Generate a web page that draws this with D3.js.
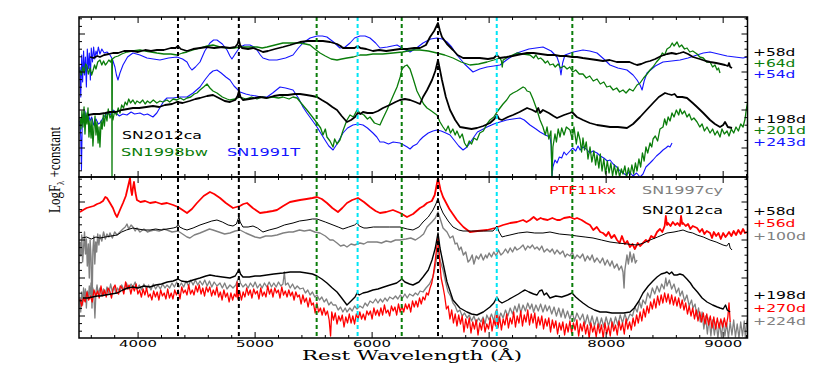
<!DOCTYPE html>
<html><head><meta charset="utf-8">
<script src="https://cdn.jsdelivr.net/npm/d3@7"></script>
<style>body{margin:0;background:#fff;} svg{display:block}</style>
</head><body>
<svg id="c" width="830" height="376"></svg>
<script>
// ---------------- data ----------------
const xTicks = [4000,5000,6000,7000,8000,9000];
const xDomain = [3495, 9208];
const lineBlack = [4341, 4861, 6563];
const lineGreen = [5526, 6253, 7711];
const lineCyan = [5876, 7065];
const yMajorTop = [2.9, 6.7, 10.5, 14.3];
const yMajorBot = [2.2, 6.0, 9.8, 13.6];

// top panel: SN2012ca +58d
const top12ca58 = [[3589,12.0],[3620,11.9],[3650,12.1],[3674,12.0],[3710,12.2],[3750,12.3],[3785,12.4],[3830,12.4],[3880,12.6],[3956,12.6],[4000,12.5],[4060,12.7],[4110,12.6],[4161,12.7],[4220,12.7],[4280,12.9],[4320,12.9],[4341,13.1],[4365,12.8],[4418,12.6],[4470,12.8],[4530,12.9],[4589,13.0],[4650,12.9],[4720,13.0],[4785,12.9],[4830,13.0],[4850,13.3],[4861,13.7],[4872,13.2],[4888,12.9],[4940,12.8],[4982,12.9],[5030,12.7],[5067,12.5],[5110,12.6],[5170,12.8],[5238,13.0],[5300,13.2],[5384,13.5],[5450,13.6],[5520,13.6],[5580,13.6],[5640,13.5],[5700,13.3],[5730,13.1],[5751,12.9],[5800,12.9],[5850,12.9],[5877,13.1],[5900,12.9],[5950,12.8],[6007,12.6],[6060,12.7],[6120,12.6],[6180,12.7],[6238,12.8],[6300,12.8],[6360,12.9],[6409,12.9],[6460,13.2],[6495,14.0],[6530,14.6],[6563,15.4],[6580,14.6],[6597,14.0],[6640,13.3],[6691,12.7],[6730,12.2],[6777,11.9],[6850,11.9],[6920,11.9],[6990,11.8],[7040,11.9],[7067,12.2],[7090,11.9],[7150,12.0],[7200,12.1],[7238,12.2],[7280,12.3],[7324,12.4],[7380,12.4],[7440,12.3],[7500,12.2],[7560,12.2],[7606,12.1],[7660,12.1],[7710,12.0],[7751,12.0],[7800,11.9],[7860,11.8],[7920,11.7],[7973,11.6],[8030,11.7],[8090,11.5],[8144,11.5],[8200,11.5],[8240,11.3],[8264,11.2],[8300,11.3],[8340,11.5],[8375,11.6],[8420,11.8],[8470,12.1],[8520,12.3],[8560,12.4],[8600,12.3],[8632,12.4],[8660,12.5],[8700,12.3],[8742,12.0],[8800,11.8],[8850,11.6],[8888,11.5],[8940,11.4],[8980,11.3],[9016,11.2],[9040,11.1],[9050,11.4],[9060,11.0],[9076,10.9]];
// top panel: SN1998bw +64d
const top98bw64 = [[3503,10.7],[3515,10.2],[3528,11.0],[3540,10.4],[3552,11.3],[3563,11.1],[3575,10.3],[3590,10.9],[3603,10.2],[3614,10.6],[3628,11.2],[3640,10.8],[3655,11.5],[3674,11.7],[3690,11.2],[3705,11.6],[3720,11.2],[3734,11.4],[3750,11.7],[3765,11.5],[3775,11.8],[3777,-0.5],[3780,11.8],[3802,12.0],[3830,12.1],[3860,12.3],[3905,12.5],[3950,12.6],[4016,12.7],[4060,12.6],[4110,12.5],[4161,12.4],[4220,12.3],[4280,12.3],[4332,12.2],[4380,12.4],[4418,12.5],[4470,12.7],[4529,12.9],[4590,13.1],[4640,13.2],[4700,13.0],[4760,12.9],[4820,12.9],[4871,13.0],[4940,13.0],[5016,13.0],[5060,12.9],[5102,13.0],[5170,13.2],[5238,13.4],[5310,13.4],[5384,13.4],[5430,13.3],[5469,13.2],[5510,12.8],[5555,12.4],[5600,12.1],[5650,11.8],[5700,11.7],[5740,11.8],[5785,11.9],[5840,12.0],[5896,12.2],[5950,12.2],[6007,12.3],[6090,12.3],[6178,12.4],[6260,12.5],[6349,12.7],[6409,12.7],[6480,12.6],[6554,12.4],[6620,12.2],[6691,11.9],[6760,11.5],[6836,11.2],[6910,11.3],[6982,11.5],[7040,11.7],[7093,11.9],[7105,11.6],[7112,11.0],[7120,11.7],[7180,12.1],[7238,12.4],[7290,12.3],[7349,12.2],[7380,11.9],[7400,12.2],[7420,11.8],[7440,11.9],[7460,11.7],[7480,11.4],[7500,11.6],[7520,11.2],[7546,11.3],[7565,11.0],[7590,11.3],[7610,10.9],[7640,11.1],[7666,10.8],[7690,11.0],[7715,10.5],[7740,10.7],[7770,10.3],[7802,10.3],[7830,9.9],[7860,10.1],[7890,9.6],[7922,9.8],[7950,9.3],[7980,9.5],[8005,9.0],[8033,9.1],[8060,8.7],[8090,8.9],[8115,8.5],[8144,8.7],[8170,8.4],[8200,8.8],[8230,8.6],[8264,9.2],[8290,9.4],[8320,9.9],[8350,10.3],[8375,10.7],[8400,11.0],[8430,11.5],[8460,11.9],[8480,12.4],[8500,12.2],[8520,12.8],[8546,13.0],[8565,13.4],[8580,13.1],[8606,13.5],[8625,13.0],[8645,13.2],[8670,12.8],[8691,12.9],[8715,12.5],[8740,12.6],[8777,12.3],[8800,12.0],[8830,11.9],[8860,11.5],[8888,11.5],[8910,11.0],[8930,11.2],[8948,10.7],[8960,10.9],[8973,10.4]];
// top panel: SN1991T +54d
const top91T54 = [[3503,11.0],[3510,8.0],[3518,12.2],[3526,9.5],[3534,12.6],[3542,10.2],[3550,12.0],[3558,9.0],[3566,12.8],[3575,10.8],[3583,12.4],[3592,9.7],[3600,12.9],[3610,11.5],[3620,13.0],[3630,11.8],[3640,12.6],[3650,12.2],[3660,13.0],[3674,12.3],[3690,12.8],[3710,12.4],[3734,12.5],[3760,12.2],[3780,11.8],[3802,11.0],[3815,10.2],[3828,9.7],[3845,10.4],[3871,11.2],[3910,12.0],[3956,12.4],[4016,12.2],[4076,11.9],[4130,11.8],[4187,11.7],[4260,11.9],[4332,12.0],[4380,11.8],[4418,11.5],[4440,11.0],[4460,10.7],[4490,11.0],[4529,11.5],[4570,12.6],[4614,13.4],[4645,13.7],[4674,13.7],[4720,13.3],[4760,12.7],[4785,12.1],[4802,11.8],[4835,12.4],[4871,13.0],[4910,13.2],[4956,13.2],[4990,13.0],[5016,12.7],[5045,12.2],[5067,11.9],[5120,11.7],[5187,11.7],[5260,11.9],[5324,12.2],[5370,12.9],[5409,13.4],[5470,13.9],[5529,14.1],[5575,14.1],[5614,14.0],[5670,13.5],[5725,12.9],[5770,13.0],[5811,13.4],[5850,13.9],[5896,14.1],[5940,14.1],[5982,13.9],[6030,13.4],[6067,12.9],[6130,13.0],[6213,13.2],[6270,12.8],[6324,12.5],[6380,12.9],[6435,13.4],[6500,13.8],[6554,13.9],[6600,13.8],[6640,13.5],[6680,13.0],[6725,12.2],[6790,11.3],[6862,10.5],[6920,10.8],[6982,11.0],[7040,11.1],[7093,11.2],[7160,11.8],[7238,12.4],[7340,12.8],[7460,13.0],[7530,12.6],[7580,12.0],[7600,11.3],[7614,10.2],[7628,11.4],[7648,12.2],[7720,12.5],[7802,12.7],[7860,12.6],[7922,12.4],[7980,11.8],[8033,11.2],[8100,10.9],[8178,10.7],[8230,10.2],[8264,9.7],[8290,9.2],[8307,8.7],[8325,9.6],[8349,10.4],[8420,11.1],[8486,11.5],[8560,11.6],[8632,11.7],[8700,11.9],[8777,12.2],[8830,12.4],[8888,12.5],[8960,12.3],[9033,12.1],[9100,12.0],[9170,11.9],[9208,12.0]];
// top panel: SN2012ca +198d
const top12ca198 = [[3572,6.2],[3620,6.3],[3670,6.3],[3720,6.4],[3760,6.5],[3810,6.5],[3860,6.7],[3910,6.8],[3956,6.9],[4010,6.9],[4070,7.0],[4127,7.1],[4180,7.0],[4230,7.2],[4290,7.3],[4332,7.5],[4380,7.4],[4440,7.6],[4490,7.8],[4529,7.9],[4590,8.1],[4640,8.2],[4690,7.9],[4740,7.6],[4785,7.5],[4830,7.7],[4850,8.1],[4862,8.6],[4875,8.0],[4896,7.7],[4950,7.8],[5000,7.9],[5042,8.0],[5100,7.9],[5160,8.1],[5213,8.2],[5280,8.2],[5340,8.3],[5384,8.3],[5440,8.2],[5490,8.1],[5529,8.0],[5570,7.7],[5614,7.4],[5660,7.0],[5700,6.7],[5740,6.1],[5785,5.5],[5820,5.7],[5854,6.0],[5877,6.4],[5900,6.3],[5922,6.5],[5960,6.4],[6007,6.4],[6050,6.6],[6093,6.9],[6150,7.2],[6200,7.5],[6238,7.7],[6280,7.8],[6324,7.7],[6370,7.5],[6409,7.3],[6435,8.0],[6470,8.7],[6512,9.7],[6540,10.6],[6563,11.7],[6580,10.7],[6597,9.7],[6630,8.0],[6666,6.7],[6710,5.7],[6751,5.0],[6800,4.9],[6850,4.8],[6896,4.9],[6950,5.1],[7007,5.4],[7045,5.8],[7067,6.2],[7085,5.8],[7110,5.7],[7160,6.0],[7204,6.2],[7260,6.5],[7324,6.9],[7370,6.7],[7400,6.5],[7420,6.9],[7435,6.4],[7460,6.7],[7510,6.4],[7550,6.1],[7580,5.9],[7640,6.2],[7690,6.4],[7708,6.5],[7750,6.0],[7802,5.7],[7860,5.4],[7922,5.2],[7980,5.1],[8033,5.0],[8100,5.0],[8178,4.9],[8230,5.3],[8290,6.0],[8345,6.7],[8401,7.4],[8450,8.0],[8503,8.4],[8530,8.3],[8560,8.2],[8585,8.3],[8606,8.0],[8650,8.0],[8691,7.9],[8740,7.4],[8777,7.0],[8830,6.4],[8888,5.7],[8930,5.3],[8973,5.0],[9000,5.2],[9016,5.5],[9040,5.0],[9076,4.9]];
// top panel: SN1998bw +201d
const top98bw201 = [[3503,6.0],[3512,4.8],[3520,6.6],[3529,5.0],[3538,7.0],[3546,4.3],[3555,6.4],[3563,5.3],[3572,6.9],[3580,4.0],[3589,5.6],[3598,3.9],[3606,5.8],[3614,3.1],[3623,4.9],[3632,6.1],[3640,4.2],[3649,5.5],[3658,3.4],[3666,5.0],[3674,3.0],[3684,5.6],[3693,4.8],[3703,6.2],[3712,5.1],[3722,6.4],[3734,5.6],[3745,6.8],[3760,5.9],[3775,6.3],[3785,5.7],[3800,6.6],[3815,6.2],[3830,6.9],[3845,6.4],[3860,7.2],[3875,6.9],[3890,7.5],[3905,7.2],[3920,7.8],[3935,7.4],[3956,7.7],[3975,7.3],[3990,7.6],[4016,7.4],[4040,7.7],[4060,7.3],[4080,7.6],[4102,7.4],[4130,7.7],[4160,7.4],[4187,7.6],[4210,7.5],[4247,7.7],[4270,7.5],[4300,7.8],[4332,7.7],[4360,7.9],[4390,7.7],[4418,7.9],[4450,8.0],[4480,8.3],[4503,8.4],[4529,8.7],[4560,9.0],[4589,9.3],[4614,8.9],[4640,8.6],[4674,8.4],[4720,8.0],[4760,7.8],[4785,7.7],[4830,7.8],[4871,8.0],[4920,7.8],[4970,8.0],[5016,7.8],[5060,8.0],[5102,7.9],[5150,8.0],[5200,7.9],[5238,8.0],[5290,7.8],[5324,8.0],[5358,7.9],[5400,7.3],[5443,6.7],[5490,6.0],[5529,5.4],[5560,4.9],[5580,4.2],[5600,4.8],[5614,4.0],[5640,3.6],[5666,3.0],[5680,3.8],[5700,3.3],[5725,3.7],[5750,4.6],[5785,5.7],[5811,6.2],[5840,6.0],[5871,6.7],[5896,6.4],[5930,6.2],[5960,5.8],[5982,6.0],[6020,5.4],[6067,5.2],[6090,5.8],[6127,6.7],[6160,7.6],[6190,8.4],[6213,9.0],[6240,10.0],[6255,10.8],[6280,11.1],[6298,11.2],[6324,10.8],[6349,9.9],[6383,8.6],[6409,8.0],[6440,7.3],[6469,6.9],[6495,6.7],[6530,6.4],[6554,6.2],[6580,5.5],[6606,5.0],[6630,4.6],[6650,5.1],[6670,4.4],[6690,4.8],[6710,4.2],[6725,4.6],[6750,3.9],[6770,4.3],[6790,3.4],[6811,3.0],[6830,3.6],[6850,3.3],[6870,3.9],[6896,3.7],[6920,4.4],[6950,4.6],[6982,5.3],[7007,5.7],[7040,6.0],[7067,6.5],[7093,6.9],[7119,7.3],[7150,7.7],[7178,8.2],[7204,8.4],[7238,8.6],[7264,8.8],[7290,9.0],[7307,8.9],[7324,8.6],[7349,8.5],[7375,7.8],[7409,6.7],[7435,5.7],[7460,5.0],[7480,4.2],[7495,5.0],[7510,3.8],[7528,4.6],[7537,0.0],[7545,3.0],[7563,4.3],[7575,3.5],[7590,4.8],[7606,4.0],[7620,4.9],[7640,4.2],[7660,5.0],[7691,4.7],[7710,3.8],[7725,5.0],[7745,3.3],[7760,4.5],[7777,3.7],[7790,2.5],[7802,3.9],[7815,2.7],[7830,3.5],[7845,1.8],[7862,3.0],[7878,1.5],[7895,2.6],[7910,1.2],[7922,2.2],[7938,0.9],[7950,2.3],[7965,0.6],[7980,1.8],[7995,0.3],[8010,1.6],[8025,0.4],[8040,1.4],[8055,0.1],[8070,1.2],[8085,0.2],[8100,1.0],[8115,0.0],[8130,0.8],[8144,0.3],[8160,1.1],[8175,0.0],[8190,0.9],[8205,0.2],[8220,1.2],[8235,0.3],[8250,1.4],[8264,0.6],[8280,1.8],[8295,1.0],[8310,2.4],[8325,1.6],[8340,3.0],[8355,2.4],[8375,3.4],[8390,3.0],[8401,3.8],[8420,4.1],[8440,3.6],[8460,4.8],[8486,5.0],[8500,5.8],[8515,5.2],[8530,6.0],[8546,5.6],[8563,6.4],[8580,6.0],[8600,6.7],[8620,6.2],[8632,6.8],[8650,6.3],[8670,6.6],[8691,6.0],[8710,6.3],[8730,5.7],[8750,5.9],[8777,5.5],[8800,5.0],[8820,5.3],[8840,4.6],[8862,5.0],[8888,4.4],[8910,4.8],[8930,4.2],[8950,4.6],[8973,4.0],[8990,4.8],[9010,4.3],[9033,4.6],[9050,4.1],[9070,4.8],[9090,4.4],[9110,5.0],[9130,4.6],[9150,5.3],[9170,5.0],[9187,5.8],[9198,6.8],[9208,7.4]];
// top panel: SN1991T +243d
const top91T243 = [[3503,5.6],[3510,4.0],[3516,0.7],[3522,5.0],[3530,6.3],[3538,5.4],[3546,6.6],[3555,5.5],[3563,5.9],[3575,6.4],[3589,5.6],[3603,6.0],[3620,5.2],[3640,5.8],[3660,5.3],[3674,5.4],[3700,5.9],[3720,6.2],[3740,6.4],[3760,6.2],[3785,6.7],[3810,6.4],[3840,6.1],[3870,6.3],[3905,6.2],[3940,6.5],[3970,6.3],[4016,6.4],[4050,6.2],[4080,6.3],[4127,6.0],[4160,6.4],[4190,7.0],[4220,7.6],[4247,7.9],[4300,7.9],[4350,8.0],[4418,8.0],[4470,8.4],[4529,9.0],[4570,9.7],[4610,10.3],[4640,10.6],[4674,10.7],[4710,10.4],[4750,10.0],[4785,9.7],[4820,9.1],[4871,8.5],[4920,8.3],[4956,8.2],[5010,8.1],[5050,8.0],[5102,8.0],[5150,8.4],[5213,9.0],[5260,8.9],[5324,8.7],[5370,7.9],[5409,7.0],[5443,6.4],[5480,5.8],[5529,5.0],[5560,4.4],[5597,3.7],[5630,3.1],[5666,2.7],[5700,3.3],[5751,4.4],[5790,4.9],[5836,5.2],[5880,5.3],[5922,5.2],[5960,4.9],[6007,4.4],[6040,4.0],[6067,3.5],[6100,3.5],[6140,3.3],[6180,3.5],[6238,3.4],[6270,3.2],[6300,3.0],[6324,2.8],[6350,3.1],[6383,3.3],[6409,3.7],[6435,4.0],[6480,4.4],[6520,4.6],[6554,4.7],[6590,4.6],[6630,4.4],[6666,4.2],[6700,3.7],[6740,3.1],[6777,2.7],[6811,3.0],[6836,3.4],[6870,4.0],[6900,4.5],[6950,4.8],[6982,5.0],[7040,5.3],[7093,5.5],[7150,5.7],[7204,5.8],[7264,5.9],[7300,5.7],[7349,5.2],[7400,4.8],[7435,4.5],[7480,4.2],[7520,4.0],[7530,3.2],[7537,0.0],[7545,1.0],[7563,1.7],[7580,1.4],[7600,2.0],[7620,1.9],[7640,2.5],[7660,2.2],[7691,2.6],[7715,2.9],[7740,2.6],[7760,3.1],[7777,2.7],[7802,3.0],[7830,2.8],[7860,2.4],[7888,2.6],[7922,2.4],[7950,2.1],[7980,1.9],[8010,1.6],[8033,1.7],[8060,1.3],[8090,1.0],[8120,0.6],[8144,0.4],[8170,0.2],[8200,0.5],[8230,0.1],[8260,0.4],[8290,0.0],[8315,0.3],[8340,1.0],[8375,1.4],[8400,1.7],[8430,2.1],[8460,2.4],[8486,2.7],[8510,2.9],[8530,3.1],[8546,3.0],[8563,3.4]];

// bottom panel: PTF11kx +56d
const botPtf56 = [[3503,12.6],[3530,12.8],[3560,13.0],[3589,13.1],[3620,13.2],[3650,13.4],[3674,13.5],[3700,13.7],[3720,14.1],[3734,14.0],[3760,13.5],[3785,13.0],[3805,12.4],[3820,12.1],[3845,12.8],[3871,13.5],[3895,14.2],[3913,15.1],[3931,16.0],[3940,14.8],[3948,14.3],[3956,15.0],[3965,15.6],[3978,14.5],[3990,13.8],[4020,13.6],[4060,13.7],[4102,13.5],[4150,13.6],[4200,13.4],[4247,13.5],[4300,13.3],[4341,13.1],[4380,12.8],[4418,12.5],[4460,12.9],[4503,13.5],[4560,14.2],[4614,14.6],[4650,14.4],[4700,14.0],[4750,13.5],[4811,13.0],[4870,13.2],[4900,13.4],[4931,13.5],[4980,13.0],[5042,12.5],[5100,12.6],[5150,12.7],[5187,12.8],[5240,13.2],[5298,13.6],[5340,13.7],[5384,13.8],[5440,13.9],[5490,14.0],[5529,14.1],[5570,13.9],[5614,13.5],[5660,13.0],[5708,12.6],[5745,13.0],[5785,13.5],[5830,13.8],[5879,14.0],[5930,13.6],[5982,13.1],[6030,12.7],[6067,12.5],[6120,12.6],[6178,12.8],[6240,12.5],[6298,12.1],[6350,12.4],[6409,13.0],[6440,13.2],[6469,13.5],[6510,13.7],[6535,14.3],[6563,16.0],[6585,14.8],[6606,14.1],[6660,12.9],[6725,11.8],[6780,11.1],[6836,10.6],[6900,10.7],[6982,10.8],[7050,11.0],[7119,11.3],[7180,11.5],[7238,11.6],[7290,11.8],[7320,11.6],[7349,11.8],[7380,12.1],[7410,11.8],[7440,12.0],[7460,11.9],[7500,11.8],[7540,12.0],[7580,11.8],[7606,11.8],[7640,12.0],[7690,12.1],[7730,11.9],[7751,12.0],[7790,11.8],[7830,11.5],[7862,11.3],[7890,10.8],[7920,11.1],[7950,10.6],[7973,10.5],[8000,10.2],[8020,10.6],[8045,10.0],[8070,10.3],[8093,9.8],[8115,9.5],[8135,10.2],[8160,9.4],[8180,9.7],[8204,9.1],[8225,9.4],[8245,8.9],[8270,9.5],[8290,9.2],[8315,9.5],[8340,9.8],[8360,9.6],[8385,10.2],[8410,10.0],[8435,10.6],[8460,10.9],[8480,10.6],[8500,11.2],[8510,12.2],[8520,11.3],[8529,11.5],[8550,11.2],[8570,11.6],[8590,11.3],[8610,11.5],[8630,11.2],[8640,12.2],[8650,11.4],[8657,11.5],[8680,11.2],[8700,11.4],[8720,10.9],[8740,11.2],[8777,11.0],[8800,10.6],[8820,10.9],[8840,10.4],[8860,10.7],[8888,10.5],[8905,10.0],[8920,10.6],[8940,10.2],[8960,10.5],[8980,9.9],[9000,10.5],[9020,10.1],[9033,10.3],[9050,10.6],[9070,10.2],[9090,10.7],[9110,10.3],[9130,10.8],[9150,10.4],[9170,10.9],[9187,10.5],[9208,10.6]];
// bottom panel: SN2012ca +58d
const bot12ca58 = [[3520,10.0],[3560,10.1],[3600,9.9],[3640,10.1],[3674,10.0],[3720,10.1],[3770,10.2],[3820,10.3],[3860,10.6],[3900,10.8],[3956,11.0],[4000,10.9],[4050,10.8],[4102,10.8],[4150,10.9],[4200,10.8],[4247,10.9],[4300,11.0],[4330,11.1],[4341,11.4],[4355,11.1],[4390,10.9],[4418,10.8],[4470,11.0],[4529,11.3],[4580,11.5],[4630,11.7],[4674,11.8],[4720,11.6],[4770,11.3],[4811,11.2],[4840,11.4],[4855,11.9],[4862,12.1],[4872,11.6],[4896,11.1],[4940,11.1],[4982,11.2],[5020,11.0],[5067,10.6],[5120,10.8],[5187,11.0],[5250,11.3],[5324,11.5],[5380,11.7],[5443,11.8],[5490,11.9],[5529,11.9],[5600,11.6],[5666,11.3],[5710,11.1],[5751,10.9],[5800,11.1],[5850,11.3],[5871,11.5],[5890,11.2],[5930,11.0],[5956,11.0],[6010,11.1],[6067,11.1],[6150,11.1],[6238,11.1],[6300,10.9],[6349,10.8],[6400,11.1],[6435,11.6],[6480,12.1],[6520,12.8],[6545,13.4],[6563,14.0],[6580,13.2],[6606,12.5],[6650,11.7],[6691,11.1],[6740,10.8],[6777,10.7],[6850,10.7],[6950,10.7],[7033,10.7],[7055,11.0],[7067,11.2],[7085,10.6],[7110,10.1],[7140,10.2],[7178,10.3],[7250,10.5],[7324,10.6],[7390,10.5],[7460,10.5],[7520,10.6],[7600,10.4],[7691,10.3],[7750,10.2],[7820,10.1],[7888,10.0],[7960,9.8],[8033,9.6],[8100,9.5],[8180,9.4],[8264,9.3],[8320,9.5],[8375,9.8],[8440,10.1],[8520,10.5],[8580,10.6],[8620,10.7],[8657,10.8],[8700,10.6],[8740,10.5],[8777,10.3],[8830,10.1],[8888,9.8],[8940,9.6],[8999,9.3],[9030,9.2],[9050,9.5],[9060,9.0],[9076,8.8]];
// bottom panel: SN1997cy +100d
const bot97cy100 = [[3503,9.6],[3510,8.2],[3518,10.3],[3526,7.6],[3534,9.0],[3542,10.6],[3550,8.4],[3558,9.9],[3566,7.2],[3575,9.4],[3583,6.0],[3590,9.8],[3598,8.0],[3606,3.0],[3614,8.8],[3622,10.2],[3630,7.4],[3638,9.6],[3646,8.6],[3655,10.4],[3665,9.3],[3674,10.3],[3690,9.7],[3705,10.6],[3720,9.9],[3734,10.4],[3750,10.1],[3760,10.5],[3780,10.0],[3800,10.6],[3820,10.3],[3845,10.6],[3870,10.9],[3890,11.1],[3905,11.4],[3920,10.9],[3940,11.3],[3956,11.1],[3975,10.7],[3990,11.0],[4016,10.6],[4050,10.9],[4080,10.6],[4102,10.7],[4140,10.8],[4180,10.7],[4220,10.9],[4247,10.8],[4290,10.6],[4341,10.7],[4380,10.4],[4418,10.1],[4443,10.0],[4480,10.3],[4529,10.5],[4570,10.7],[4610,10.9],[4640,10.8],[4690,10.6],[4740,10.4],[4785,10.5],[4830,10.7],[4871,10.8],[4920,10.5],[4960,10.3],[5000,10.1],[5042,10.0],[5090,10.2],[5140,10.2],[5187,10.3],[5240,10.5],[5290,10.6],[5324,10.6],[5380,10.8],[5420,10.7],[5469,10.8],[5510,10.6],[5555,10.5],[5600,10.2],[5640,9.8],[5666,9.8],[5700,9.5],[5730,9.2],[5760,9.3],[5785,9.1],[5820,9.4],[5850,9.3],[5896,9.5],[5930,9.4],[5960,9.6],[6007,9.6],[6042,9.6],[6080,9.5],[6120,9.7],[6160,9.6],[6200,9.8],[6238,9.8],[6290,9.9],[6330,10.0],[6370,9.8],[6409,10.1],[6440,10.4],[6469,11.1],[6510,11.6],[6540,12.0],[6563,12.6],[6585,11.8],[6606,11.0],[6640,10.6],[6666,10.0],[6690,10.2],[6710,9.4],[6725,9.5],[6745,8.8],[6760,9.1],[6780,8.3],[6800,8.6],[6820,7.6],[6836,7.8],[6855,8.3],[6870,7.4],[6890,8.2],[6910,7.9],[6930,8.4],[6950,7.8],[6970,8.3],[6982,8.0],[7000,8.5],[7020,8.1],[7040,8.6],[7060,8.2],[7080,8.8],[7100,8.3],[7119,8.5],[7140,8.9],[7160,8.5],[7180,9.0],[7200,8.6],[7220,9.1],[7238,8.8],[7264,9.0],[7290,9.3],[7310,8.8],[7330,9.2],[7349,9.0],[7370,9.3],[7390,8.9],[7409,9.1],[7430,8.8],[7450,9.2],[7470,8.6],[7495,8.9],[7520,8.6],[7540,8.9],[7560,8.4],[7580,8.8],[7606,8.4],[7630,8.7],[7650,8.1],[7666,8.4],[7691,8.2],[7710,8.6],[7730,7.9],[7751,8.3],[7777,8.0],[7800,8.4],[7820,7.7],[7840,8.2],[7862,7.8],[7880,8.3],[7900,7.6],[7922,8.0],[7948,7.5],[7970,8.0],[7990,7.3],[8010,7.8],[8033,7.2],[8050,7.7],[8070,7.0],[8093,7.4],[8110,6.8],[8130,7.2],[8144,6.6],[8153,5.0],[8160,6.8],[8178,8.3],[8190,7.4],[8204,8.6],[8220,7.6],[8235,8.4],[8250,7.5],[8264,7.8]];
// bottom panel: SN2012ca +198d
const bot12ca198 = [[3529,4.0],[3570,4.0],[3610,4.1],[3650,4.2],[3674,4.2],[3720,4.3],[3770,4.4],[3820,4.5],[3870,4.8],[3910,5.0],[3956,5.1],[4000,5.0],[4050,5.2],[4102,5.1],[4150,5.3],[4200,5.4],[4250,5.6],[4300,5.7],[4341,5.9],[4370,5.7],[4418,5.6],[4470,5.8],[4529,6.0],[4580,6.2],[4614,6.3],[4660,6.2],[4720,6.1],[4785,6.0],[4830,6.2],[4850,6.6],[4862,6.9],[4875,6.4],[4896,6.1],[4950,6.1],[5000,6.2],[5042,6.2],[5100,6.3],[5160,6.4],[5238,6.5],[5300,6.6],[5384,6.6],[5440,6.5],[5490,6.4],[5529,6.2],[5570,5.9],[5614,5.5],[5660,5.0],[5700,4.6],[5740,4.0],[5785,3.3],[5820,3.7],[5854,4.1],[5871,4.5],[5890,4.3],[5922,4.5],[5960,4.6],[6007,4.8],[6050,4.9],[6100,5.1],[6153,5.3],[6210,5.5],[6255,5.9],[6280,5.6],[6320,5.4],[6349,5.3],[6400,5.6],[6435,6.1],[6480,6.8],[6512,7.8],[6540,9.0],[6563,10.5],[6580,9.0],[6606,7.5],[6640,5.6],[6691,3.8],[6750,3.0],[6811,2.6],[6850,2.4],[6896,2.3],[6950,2.6],[7007,3.1],[7040,3.5],[7067,4.1],[7085,3.7],[7110,3.5],[7160,3.8],[7204,4.1],[7250,4.4],[7290,4.7],[7307,4.8],[7340,4.6],[7380,4.4],[7409,4.3],[7430,4.7],[7452,4.8],[7470,4.3],[7490,4.5],[7520,4.0],[7570,4.2],[7620,4.1],[7670,4.3],[7708,4.5],[7740,4.1],[7770,3.8],[7802,3.5],[7850,3.1],[7900,2.8],[7948,2.6],[8000,2.6],[8050,2.5],[8093,2.5],[8150,2.5],[8204,2.6],[8240,3.0],[8280,3.7],[8315,4.5],[8360,5.2],[8400,5.7],[8435,6.1],[8470,6.4],[8500,6.5],[8520,6.6],[8540,6.4],[8560,6.6],[8580,6.3],[8606,6.3],[8630,6.4],[8657,6.3],[8690,5.9],[8720,5.5],[8742,5.1],[8780,4.6],[8820,4.0],[8862,3.6],[8910,3.3],[8950,3.1],[8973,3.0],[9000,2.9],[9020,3.3],[9035,2.8],[9059,2.6]];
// bottom panel: PTF11kx +270d
const botPtf270 = [[3503,3.9],[3518,3.2],[3533,4.0],[3548,3.6],[3563,4.6],[3578,3.8],[3593,4.2],[3608,3.6],[3623,4.8],[3638,4.2],[3653,4.7],[3668,4.0],[3683,5.2],[3698,4.2],[3713,4.8],[3728,4.1],[3743,5.0],[3758,4.7],[3773,4.0],[3788,5.0],[3803,5.3],[3818,4.6],[3833,4.4],[3848,5.2],[3863,5.0],[3878,4.4],[3893,5.6],[3908,4.9],[3923,5.3],[3938,4.4],[3953,5.2],[3968,4.7],[3983,5.4],[3998,4.4],[4013,4.8],[4028,4.1],[4043,4.9],[4058,4.3],[4073,5.0],[4088,4.1],[4103,4.4],[4118,3.8],[4133,4.7],[4148,4.1],[4163,4.6],[4178,3.8],[4193,4.8],[4208,4.2],[4223,4.5],[4238,3.9],[4253,4.9],[4268,4.0],[4283,4.5],[4298,3.9],[4313,4.8],[4328,4.3],[4343,4.8],[4358,3.9],[4373,5.1],[4388,4.5],[4403,4.8],[4418,4.3],[4433,5.3],[4448,4.4],[4463,4.8],[4478,4.3],[4493,5.2],[4508,4.6],[4523,5.3],[4538,4.4],[4553,5.0],[4568,4.2],[4583,5.1],[4598,4.6],[4613,5.1],[4628,4.2],[4643,4.8],[4658,4.3],[4673,5.1],[4688,4.1],[4703,4.6],[4718,3.8],[4733,4.8],[4748,4.1],[4763,4.5],[4778,3.6],[4793,4.5],[4808,3.8],[4823,4.4],[4838,4.1],[4846,5.6],[4853,3.9],[4868,4.7],[4883,3.8],[4898,4.6],[4913,4.1],[4928,5.0],[4943,4.3],[4958,4.8],[4973,4.0],[4988,4.9],[5003,4.4],[5018,4.7],[5033,3.9],[5048,5.0],[5063,4.2],[5078,4.6],[5093,4.1],[5108,5.2],[5123,4.4],[5138,4.9],[5153,4.1],[5168,5.0],[5183,4.5],[5198,4.8],[5213,4.0],[5228,5.1],[5243,4.3],[5258,4.7],[5273,4.1],[5288,4.8],[5303,4.2],[5318,4.6],[5333,3.8],[5348,4.6],[5363,4.1],[5378,4.3],[5393,3.4],[5408,4.3],[5423,3.6],[5438,4.0],[5453,3.1],[5468,4.0],[5483,3.3],[5498,3.5],[5513,2.5],[5528,3.5],[5543,2.6],[5558,3.0],[5573,2.3],[5588,3.0],[5603,2.3],[5618,2.7],[5633,1.8],[5645,0.2],[5655,2.6],[5670,1.8],[5685,2.5],[5700,1.4],[5715,2.2],[5730,1.7],[5745,2.3],[5760,1.1],[5775,2.1],[5790,1.5],[5805,2.4],[5820,1.5],[5835,2.2],[5850,1.4],[5865,2.4],[5880,1.9],[5895,2.6],[5910,1.9],[5925,2.4],[5940,1.8],[5955,2.7],[5970,2.3],[5985,2.7],[6000,1.9],[6015,3.0],[6030,2.3],[6045,2.8],[6060,2.2],[6075,3.0],[6090,2.3],[6105,3.3],[6120,2.5],[6135,2.8],[6150,2.2],[6165,3.2],[6180,2.7],[6195,3.1],[6210,2.3],[6225,3.4],[6240,2.6],[6255,3.2],[6270,2.6],[6285,3.4],[6300,2.9],[6315,3.4],[6330,2.6],[6345,3.7],[6360,3.1],[6375,3.7],[6390,3.1],[6405,4.0],[6420,3.4],[6435,4.1],[6450,3.8],[6465,4.5],[6480,4.3],[6495,5.0],[6510,5.5],[6525,6.5],[6540,7.8],[6552,9.0],[6563,10.1],[6575,8.0],[6590,6.0],[6606,5.1],[6620,4.2],[6635,2.9],[6650,3.2],[6665,1.9],[6680,2.8],[6695,1.5],[6710,2.4],[6725,1.2],[6740,2.3],[6755,1.4],[6770,2.2],[6785,0.6],[6800,1.9],[6815,1.0],[6830,2.0],[6845,0.5],[6860,1.6],[6875,0.9],[6890,1.8],[6905,0.3],[6920,1.5],[6935,0.8],[6950,1.9],[6965,0.6],[6980,1.4],[6995,0.9],[7010,2.0],[7025,0.7],[7040,1.8],[7055,1.2],[7065,2.6],[7075,1.0],[7090,2.1],[7105,0.8],[7120,1.9],[7135,1.3],[7150,2.4],[7165,1.0],[7180,2.0],[7195,1.4],[7210,2.6],[7225,1.1],[7240,2.2],[7255,1.5],[7270,2.7],[7285,1.2],[7300,2.3],[7315,1.6],[7330,2.8],[7345,1.3],[7360,2.4],[7375,1.5],[7390,2.5],[7405,1.0],[7420,2.1],[7435,1.3],[7450,2.2],[7465,0.9],[7480,1.9],[7495,1.2],[7510,2.0],[7525,0.6],[7540,1.8],[7555,1.0],[7570,1.7],[7585,0.4],[7600,1.5],[7615,0.8],[7630,1.6],[7645,0.3],[7660,1.4],[7675,0.6],[7690,1.7],[7705,0.5],[7720,1.5],[7735,0.8],[7750,1.8],[7765,0.2],[7780,1.4],[7795,0.7],[7810,1.6],[7825,0.4],[7840,1.3],[7855,0.0],[7870,1.5],[7885,0.6],[7900,1.2],[7915,0.1],[7930,1.4],[7945,0.5],[7960,1.3],[7975,0.0],[7990,1.5],[8005,0.4],[8020,1.2],[8035,0.2],[8050,1.6],[8065,0.7],[8080,1.3],[8095,0.3],[8110,1.7],[8125,0.8],[8140,1.5],[8155,0.4],[8170,1.9],[8185,0.9],[8200,1.6],[8215,0.8],[8230,2.0],[8245,1.2],[8260,2.3],[8275,1.5],[8290,2.6],[8305,1.7],[8320,2.9],[8335,2.1],[8350,3.2],[8365,2.5],[8380,3.6],[8395,2.9],[8410,3.9],[8425,3.0],[8440,4.2],[8455,3.3],[8470,4.3],[8485,3.5],[8500,4.5],[8515,3.6],[8530,4.4],[8545,3.4],[8560,4.3],[8575,3.3],[8590,4.1],[8605,3.2],[8620,4.0],[8635,3.0],[8650,3.8],[8665,2.8],[8680,3.5],[8695,2.4],[8710,3.2],[8725,2.2],[8740,3.0],[8755,1.9],[8770,2.8],[8785,1.7],[8800,2.6],[8815,1.6],[8830,2.5],[8845,1.4],[8860,2.4],[8875,1.3],[8890,2.2],[8905,1.0],[8920,2.1],[8935,0.9],[8950,2.0],[8965,1.0],[8980,1.9],[8995,1.1],[9010,2.0],[9025,1.1],[9040,2.1],[9050,3.5],[9060,1.6]];
// bottom panel: SN1997cy +224d
const bot97cy224 = [[3503,4.1],[3510,2.6],[3518,4.6],[3526,3.3],[3534,5.0],[3542,3.8],[3550,4.9],[3558,3.0],[3566,4.7],[3575,4.0],[3583,5.2],[3590,4.2],[3598,5.5],[3606,3.6],[3614,5.0],[3622,4.3],[3631,2.0],[3640,4.6],[3649,5.3],[3660,4.4],[3674,5.0],[3690,4.2],[3705,4.9],[3720,4.3],[3734,5.1],[3750,4.5],[3765,5.4],[3780,4.6],[3795,5.1],[3810,4.5],[3825,5.0],[3845,4.6],[3860,5.3],[3880,4.8],[3900,5.5],[3920,4.9],[3940,5.4],[3956,5.1],[3975,5.6],[3990,4.9],[4010,5.3],[4030,4.8],[4050,5.4],[4070,4.9],[4090,5.3],[4110,4.8],[4130,5.4],[4150,4.9],[4170,5.3],[4190,4.9],[4210,5.4],[4230,5.0],[4247,5.3],[4270,5.0],[4290,5.5],[4310,5.1],[4330,5.6],[4350,5.1],[4370,5.5],[4390,5.1],[4410,5.7],[4430,5.2],[4450,5.8],[4470,5.3],[4490,5.8],[4510,5.3],[4529,5.7],[4550,5.3],[4570,5.8],[4590,5.2],[4610,5.7],[4630,5.1],[4650,5.6],[4674,5.2],[4700,5.5],[4720,5.0],[4740,5.5],[4760,4.9],[4785,5.3],[4811,5.0],[4835,5.3],[4850,5.8],[4862,6.1],[4875,5.5],[4896,5.1],[4920,5.4],[4940,5.0],[4960,5.5],[4982,5.1],[5000,5.6],[5020,5.0],[5042,5.4],[5060,5.0],[5080,5.5],[5100,5.1],[5120,5.6],[5140,5.1],[5160,5.5],[5180,5.1],[5200,5.6],[5220,5.2],[5238,5.4],[5250,6.6],[5260,5.3],[5280,5.5],[5300,5.0],[5320,5.4],[5340,4.9],[5360,5.2],[5384,4.9],[5410,5.0],[5430,4.5],[5450,4.8],[5470,4.3],[5490,4.6],[5510,4.1],[5529,4.3],[5550,3.8],[5570,4.1],[5590,3.6],[5610,3.9],[5630,3.3],[5650,3.6],[5666,3.3],[5690,3.3],[5710,2.8],[5730,3.1],[5750,2.6],[5770,3.0],[5785,2.6],[5810,3.0],[5830,2.7],[5850,3.2],[5871,2.9],[5896,3.2],[5920,3.0],[5940,3.5],[5960,3.2],[5982,3.7],[6007,3.5],[6030,3.9],[6050,3.5],[6070,3.9],[6090,3.6],[6110,4.0],[6130,3.7],[6150,4.1],[6178,3.9],[6200,4.2],[6220,3.9],[6240,4.3],[6260,4.0],[6280,4.4],[6300,4.0],[6320,4.4],[6349,4.2],[6370,4.5],[6390,4.3],[6410,4.7],[6435,4.6],[6460,5.0],[6490,5.4],[6520,6.1],[6545,7.5],[6563,9.1],[6580,7.8],[6606,6.8],[6630,5.5],[6650,4.6],[6670,4.2],[6691,3.5],[6710,3.2],[6730,2.6],[6750,2.8],[6770,2.2],[6790,2.5],[6811,2.0],[6830,2.3],[6850,1.7],[6870,2.2],[6890,1.5],[6910,2.0],[6930,1.6],[6948,2.1],[6965,1.4],[6980,2.3],[7000,1.8],[7020,2.4],[7040,1.7],[7055,2.6],[7067,2.9],[7080,1.8],[7100,2.5],[7119,2.0],[7140,2.8],[7160,2.2],[7180,3.0],[7200,2.4],[7220,3.2],[7238,2.6],[7255,3.4],[7270,2.5],[7290,3.3],[7310,2.7],[7330,3.5],[7349,2.9],[7365,3.4],[7380,2.6],[7400,3.3],[7420,2.7],[7440,3.4],[7460,2.6],[7480,3.3],[7495,2.7],[7515,3.2],[7535,2.4],[7555,3.1],[7575,2.2],[7595,3.0],[7615,2.1],[7631,2.9],[7650,2.0],[7670,2.7],[7690,1.9],[7710,2.6],[7730,1.7],[7750,2.5],[7777,1.8],[7800,2.4],[7820,1.4],[7840,2.3],[7860,1.3],[7880,2.2],[7900,1.2],[7922,2.1],[7940,1.1],[7960,2.0],[7980,1.1],[8000,2.1],[8020,1.2],[8040,2.0],[8059,1.1],[8080,2.1],[8100,1.3],[8120,2.3],[8140,1.5],[8160,2.4],[8180,1.7],[8204,2.4],[8225,2.2],[8245,3.1],[8265,2.6],[8285,3.6],[8300,3.0],[8315,3.8],[8335,3.4],[8355,4.5],[8375,4.0],[8395,5.0],[8415,4.4],[8435,5.2],[8455,4.6],[8475,5.4],[8495,4.9],[8510,6.0],[8520,5.2],[8540,5.8],[8560,4.9],[8580,5.4],[8600,4.5],[8620,5.0],[8632,4.2],[8650,4.7],[8670,3.7],[8690,4.3],[8710,3.2],[8730,3.8],[8742,3.0],[8760,3.4],[8775,2.2],[8790,3.0],[8805,1.6],[8820,2.6],[8835,0.9],[8850,2.2],[8865,0.4],[8880,2.0],[8895,0.2],[8910,1.8],[8925,0.3],[8940,1.6],[8955,0.0],[8970,1.5],[8985,0.1],[9000,1.7],[9015,0.2],[9030,1.5],[9045,0.0],[9060,1.6],[9075,0.3],[9090,1.8],[9105,0.1],[9120,1.4],[9135,0.0],[9150,1.6],[9165,0.2],[9180,1.7],[9190,0.0],[9200,1.5],[9208,1.9]];

const topSeries = [
  {d: top91T243, c: "#1414ff", w: 1.1},
  {d: top91T54, c: "#1414ff", w: 1.1},
  {d: top98bw201, c: "#0a7d0a", w: 1.3},
  {d: top98bw64, c: "#0a7d0a", w: 1.3},
  {d: top12ca198, c: "#000000", w: 1.8},
  {d: top12ca58, c: "#000000", w: 1.8}
];
const botSeries = [
  {d: bot97cy224, c: "#808080", w: 1.3},
  {d: bot97cy100, c: "#808080", w: 1.4},
  {d: botPtf270, c: "#ff0000", w: 1.3},
  {d: botPtf56, c: "#ff0000", w: 1.8},
  {d: bot12ca198, c: "#000000", w: 1.4},
  {d: bot12ca58, c: "#000000", w: 1.0}
];
const topEpochs = ["+58d", "+64d", "+54d", "+198d", "+201d", "+243d"];
const topEpochColors = ["#000", "#0a7d0a", "#1414ff", "#000", "#0a7d0a", "#1414ff"];
const botEpochs = ["+58d", "+56d", "+100d", "+198d", "+270d", "+224d"];
const botEpochColors = ["#000", "#ff0000", "#808080", "#000", "#ff0000", "#808080"];

// ---------------- drawing ----------------
const svg = d3.select("#c");
const L = 79, R = 747.5;
const topP = {y0: 17, y1: 177, dom: [0, 16]};
const botP = {y0: 177, y1: 338, dom: [0, 16.1]};
const x = d3.scaleLinear().domain(xDomain).range([L, R]);

function drawPanel(p, series, id, majors) {
  const y = d3.scaleLinear().domain(p.dom).range([p.y1, p.y0]);
  svg.append("clipPath").attr("id", id).append("rect")
    .attr("x", L).attr("y", p.y0).attr("width", R - L).attr("height", p.y1 - p.y0);
  const g = svg.append("g").attr("clip-path", `url(#${id})`);
  const line = d3.line().x(d => x(d[0])).y(d => y(d[1]));
  series.forEach(s => {
    g.append("path").attr("d", line(s.d)).attr("fill", "none")
      .attr("stroke", s.c).attr("stroke-width", s.w).attr("stroke-linejoin", "round");
  });
  const tg = svg.append("g").attr("stroke", "#000").attr("stroke-width", 1);
  d3.range(3600, 9201, 200).forEach(v => {
    const len = v % 1000 === 0 ? 6 : 3;
    tg.append("line").attr("x1", x(v)).attr("x2", x(v)).attr("y1", p.y1).attr("y2", p.y1 - len);
    tg.append("line").attr("x1", x(v)).attr("x2", x(v)).attr("y1", p.y0).attr("y2", p.y0 + len);
  });
  const step = (majors[1] - majors[0]) / 5;
  d3.range(majors[0] - 5 * step, p.dom[1], step).filter(v => v > p.dom[0] + 0.05).forEach(v => {
    const isMajor = majors.some(m => Math.abs(m - v) < 1e-6);
    const len = isMajor ? 6 : 3;
    tg.append("line").attr("x1", L).attr("x2", L + len).attr("y1", y(v)).attr("y2", y(v));
    tg.append("line").attr("x1", R).attr("x2", R - len).attr("y1", y(v)).attr("y2", y(v));
  });
  return y;
}
drawPanel(topP, topSeries, "clipTop", yMajorTop);
drawPanel(botP, botSeries, "clipBot", yMajorBot);

// dashed vertical lines
const vg = svg.append("g").attr("stroke-width", 2).attr("stroke-dasharray", "4,3");
[[lineBlack, "#000"], [lineGreen, "#0a7d0a"], [lineCyan, "#00e5f5"]].forEach(([arr, col]) => {
  arr.forEach(v => vg.append("line").attr("x1", x(v)).attr("x2", x(v))
    .attr("y1", topP.y0).attr("y2", botP.y1).attr("stroke", col));
});

// frames
[topP, botP].forEach(p => svg.append("rect").attr("x", L).attr("y", p.y0)
  .attr("width", R - L).attr("height", p.y1 - p.y0)
  .attr("fill", "none").attr("stroke", "#000").attr("stroke-width", 1.5));

// x tick labels
xTicks.forEach(v => svg.append("text").attr("x", x(v)).attr("y", 347)
  .attr("text-anchor", "middle").attr("font-family", "DejaVu Sans").attr("font-size", 9)
  .attr("textLength", 38).attr("lengthAdjust", "spacingAndGlyphs").text(String(v)));

// axis titles
svg.append("text").attr("x", 302).attr("y", 360).attr("font-family", "DejaVu Serif")
  .attr("font-size", 13).attr("textLength", 220).attr("lengthAdjust", "spacingAndGlyphs")
  .text("Rest Wavelength (Å)");
const yl = svg.append("text").attr("transform", "translate(60,213) rotate(-90)")
  .attr("font-family", "Liberation Serif").attr("font-size", 17)
  .attr("textLength", 86).attr("lengthAdjust", "spacingAndGlyphs");
yl.append("tspan").text("LogF");
yl.append("tspan").attr("font-size", 11).attr("dy", 4).text("λ");
yl.append("tspan").attr("dy", -4).text(" +constant");

// epoch labels on the right
function epochLabels(list, cols, ys) {
  list.forEach((t, i) => svg.append("text").attr("x", 753).attr("y", ys[i])
    .attr("font-family", "DejaVu Sans").attr("font-size", 10).attr("fill", cols[i])
    .attr("textLength", t.length * 10.6).attr("lengthAdjust", "spacingAndGlyphs").text(t));
}
epochLabels(topEpochs, topEpochColors, [55.5, 66.5, 77.5, 122.5, 134, 145.5]);
epochLabels(botEpochs, botEpochColors, [214.5, 227, 239.5, 299, 311.5, 325]);

// object labels
const names = [
  {t: "SN2012ca", x: 122, y: 139, w: 80, c: "#000"},
  {t: "SN1998bw", x: 121, y: 156, w: 87, c: "#0a7d0a"},
  {t: "SN1991T", x: 227, y: 156, w: 73, c: "#1414ff"},
  {t: "PTF11kx", x: 549, y: 194, w: 67, c: "#ff0000"},
  {t: "SN1997cy", x: 642, y: 194, w: 81, c: "#808080"},
  {t: "SN2012ca", x: 642, y: 214, w: 81, c: "#000"}
];
names.forEach(n => svg.append("text").attr("x", n.x).attr("y", n.y)
  .attr("font-family", "DejaVu Sans").attr("font-size", 10).attr("fill", n.c)
  .attr("textLength", n.w).attr("lengthAdjust", "spacingAndGlyphs").text(n.t));
</script>
</body></html>
